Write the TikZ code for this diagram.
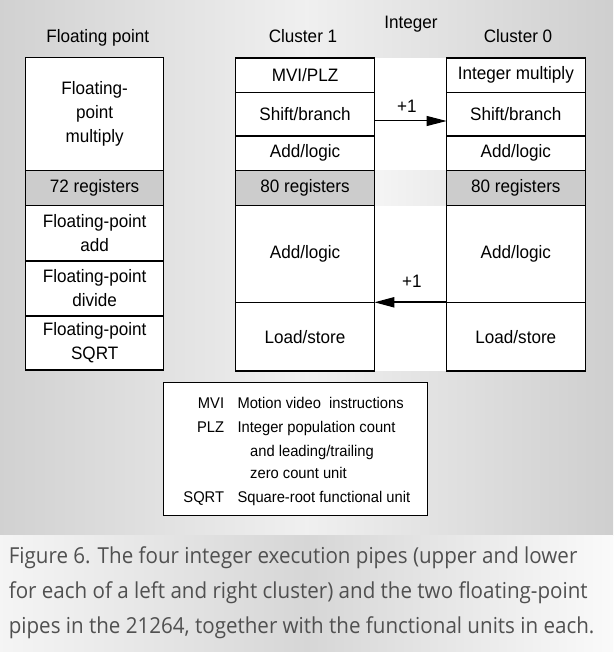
\documentclass[tikz,border=0pt]{standalone}
\usepackage{fontspec}
\setmainfont{Liberation Sans}[FakeStretch=0.95]
\newfontfamily\capfont{Open Sans}[FakeStretch=0.935]
\usetikzlibrary{positioning,arrows.meta,calc}

\definecolor{regfill}{HTML}{CCCCCC}
\definecolor{capgray}{HTML}{505050}

\tikzset{
  cell/.style={draw, fill=white, line width=1.1pt, inner sep=0pt, outer sep=0pt, minimum width=138.5pt,
    align=center, font=\fontsize{18}{24}\selectfont},
  regcell/.style={cell, fill=regfill},
  heading/.style={anchor=base, inner sep=0pt, font=\fontsize{18}{24}\selectfont},
  legtext/.style={inner sep=0pt, font=\fontsize{15.5}{20}\selectfont},
  captext/.style={anchor=base west, inner sep=0pt, text=capgray, font=\capfont\fontsize{22}{35}\selectfont},
  pipearrow/.style={-{Triangle[length=20pt,width=10pt]}},
}

\begin{document}
\begin{tikzpicture}[x=1pt, y=-1pt]
    \useasboundingbox (0,0) rectangle (613,652);
    % Background
    \shade[left color=black!18, right color=black!19, middle color=black!6] (0,0) rectangle (613,535);
    \shade[left color=black!4, right color=black!2, middle color=black!16] (0,535) rectangle (613,652);
    \fill[white] (374.7,58) rectangle (446.6,371);
    \shade[left color=black!4, right color=black!8] (374.7,170.7) rectangle (446.6,205.3);
    % Headings
    \node[heading] (fptitle) at (97.8,42.7) {Floating point};
    \node[heading] (c1title) at (303,42.7) {Cluster 1};
    \node[heading] (inttitle) at (411,28.3) {Integer};
    \node[heading] (c0title) at (518,42.7) {Cluster 0};
    % Floating-point pipes
    \node[cell, anchor=north west, minimum height=113pt] (fpmul) at (25.4,57.7) {Floating-\\point\\multiply};
    \node[regcell, minimum height=34.6pt, below=0pt of fpmul] (fpreg) {72 registers};
    \node[cell, minimum height=55.4pt, below=0pt of fpreg] (fpadd) {Floating-point\\add};
    \node[cell, minimum height=55.3pt, below=0pt of fpadd] (fpdiv) {Floating-point\\divide};
    \node[cell, minimum height=54pt, below=0pt of fpdiv] (fpsqrt) {Floating-point\\SQRT};
    % Cluster 1
    \node[cell, anchor=north west, minimum height=34.3pt] (c1mvi) at (235.8,58) {MVI/PLZ};
    \node[cell, minimum height=43.4pt, below=0pt of c1mvi] (c1shift) {Shift/branch};
    \node[cell, minimum height=35pt, below=0pt of c1shift] (c1add) {Add/logic};
    \node[regcell, minimum height=34.6pt, below=0pt of c1add] (c1reg) {80 registers};
    \node[cell, minimum height=97pt, below=0pt of c1reg] (c1addlow) {Add/logic};
    \node[cell, minimum height=68.7pt, below=0pt of c1addlow] (c1ls) {Load/store};
    % Cluster 0
    \node[cell, anchor=north west, minimum height=34.3pt] (c0mul) at (446.6,58) {Integer multiply};
    \node[cell, minimum height=43.4pt, below=0pt of c0mul] (c0shift) {Shift/branch};
    \node[cell, minimum height=35pt, below=0pt of c0shift] (c0add) {Add/logic};
    \node[regcell, minimum height=34.6pt, below=0pt of c0add] (c0reg) {80 registers};
    \node[cell, minimum height=97pt, below=0pt of c0reg] (c0addlow) {Add/logic};
    \node[cell, minimum height=68.7pt, below=0pt of c0addlow] (c0ls) {Load/store};
    % Heavier dividers
    \draw[line width=2pt] (fpadd.south west) -- (fpadd.south east);
    \draw[line width=2pt] (c1shift.south west) -- (c1shift.south east);
    \draw[line width=2pt] (c0shift.south west) -- (c0shift.south east);
    % Cross-cluster forwarding
    \draw[pipearrow, line width=1pt] ($(c1shift.south east)+(0,-14.7)$) -- ($(c0shift.south west)+(0,-14.7)$)
        node[heading, anchor=south, pos=0.45, yshift=8pt] (plusup) {+1};
    \draw[pipearrow, line width=2pt] (c0ls.north west) -- (c1ls.north east)
        node[heading, anchor=south, pos=0.48, yshift=14pt] (plusdown) {+1};
    % Legend
    \node[draw, fill=white, line width=1.5pt, anchor=north west, minimum width=264.4pt,
        minimum height=133pt, inner sep=0pt, outer sep=0pt] (legend) at (163.3,382.7) {};
    \node[legtext, anchor=base east] (mvi) at (224.3,408.7) {MVI};
    \node[legtext, anchor=base west] (mvidesc) at (237.3,408.7) {Motion video\ \ instructions};
    \node[legtext, anchor=base east] (plz) at (224.3,432.1) {PLZ};
    \node[legtext, anchor=base west] (plzdesc) at (237.3,432.1) {Integer population count};
    \node[legtext, anchor=base west] (plzdesc2) at (250,456.4) {and leading/trailing};
    \node[legtext, anchor=base west] (plzdesc3) at (250,478.7) {zero count unit};
    \node[legtext, anchor=base east] (sqrt) at (224.3,502.1) {SQRT};
    \node[legtext, anchor=base west] (sqrtdesc) at (237.3,502.1) {Square-root functional unit};
    % Caption
    \node[captext] (cap1) at (8.6,563) {Figure 6. The four integer execution pipes (upper and lower};
    \node[captext] (cap2) at (8.6,598) {for each of a left and right cluster) and the two floating-point};
    \node[captext] (cap3) at (8.6,633) {pipes in the 21264, together with the functional units in each.};
\end{tikzpicture}
\end{document}
